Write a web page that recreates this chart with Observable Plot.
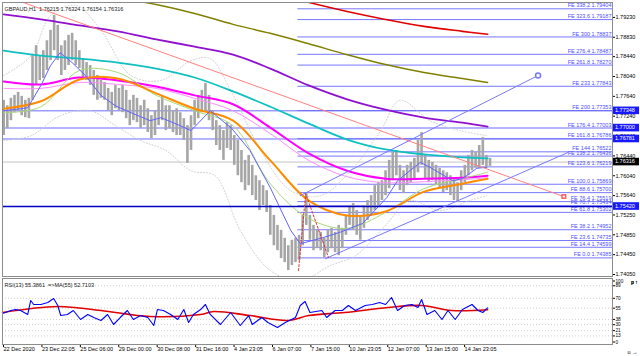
<!DOCTYPE html>
<html><head><meta charset="utf-8">
<script src="https://cdn.jsdelivr.net/npm/d3@7"></script>
<script src="https://cdn.jsdelivr.net/npm/@observablehq/plot@0.6"></script>
<style>
html,body{margin:0;padding:0;background:#fff;}
#wrap{width:640px;height:356px;position:relative;overflow:hidden;background:#fff;}
svg{display:block;}
</style></head><body><div id="wrap"></div>
<script>
// ---------- DATA ----------
const titleText = "GBPAUD,H1  1.76215 1.76324 1.76154 1.76316";
const rsiTitle = "RSI(13) 55.3861  =>MA(55) 52.7103";

// time axis (hours from first bar) and labels
const dateTicks = [0,32,64,96,128,160,192,224,256,288,320,352,384];
const dateLabels = ["22 Dec 2020","23 Dec 22:05","25 Dec 06:00","29 Dec 00:00","30 Dec 08:00","31 Dec 16:00","4 Jan 23:05","6 Jan 07:00","7 Jan 15:00","10 Jan 23:05","12 Jan 07:00","13 Jan 15:00","14 Jan 23:05"];
const priceTicks = [1.79230,1.78830,1.78440,1.78040,1.77640,1.77240,1.76840,1.76440,1.76040,1.75640,1.75250,1.74850,1.74450,1.74050];
const rsiTicksMid = [89,70,55,38,30,21,13];

// price bars, one every 3 hours
const barStart = 1, barHours = 3;
const barHigh = [1.7756,1.7745,1.7760,1.7766,1.7772,1.7764,1.7756,1.7760,1.7846,1.7866,
1.7846,1.7856,1.7876,1.7897,1.7927,1.7907,1.7866,1.7876,1.7887,1.7891,
1.7876,1.7856,1.7840,1.7832,1.7826,1.7816,1.7806,1.7796,1.7792,1.7780,
1.7772,1.7786,1.7780,1.7786,1.7776,1.7756,1.7766,1.7760,1.7745,1.7756,
1.7739,1.7725,1.7735,1.7756,1.7766,1.7745,1.7745,1.7735,1.7739,1.7731,
1.7719,1.7705,1.7725,1.7756,1.7766,1.7776,1.7790,1.7766,1.7735,1.7715,
1.7705,1.7695,1.7711,1.7705,1.7685,1.7675,1.7655,1.7635,1.7645,1.7625,
1.7604,1.7594,1.7584,1.7574,1.7544,1.7524,1.7504,1.7494,1.7478,1.7463,
1.7474,1.7478,1.7484,1.7524,1.7568,1.7524,1.7504,1.7494,1.7490,1.7478,
1.7494,1.7498,1.7490,1.7504,1.7498,1.7524,1.7544,1.7548,1.7534,1.7524,
1.7544,1.7554,1.7564,1.7584,1.7590,1.7594,1.7614,1.7635,1.7651,1.7655,
1.7625,1.7614,1.7625,1.7631,1.7639,1.7675,1.7691,1.7645,1.7635,1.7631,
1.7625,1.7619,1.7614,1.7610,1.7604,1.7598,1.7590,1.7614,1.7625,1.7645,
1.7655,1.7651,1.7665,1.7681,1.7645,1.7639];
const barLow = [1.7685,1.7699,1.7715,1.7731,1.7735,1.7725,1.7721,1.7719,1.7756,1.7786,
1.7796,1.7800,1.7816,1.7836,1.7856,1.7836,1.7806,1.7816,1.7826,1.7836,
1.7826,1.7820,1.7800,1.7796,1.7786,1.7766,1.7756,1.7760,1.7756,1.7735,
1.7725,1.7739,1.7735,1.7731,1.7719,1.7705,1.7715,1.7711,1.7699,1.7705,
1.7691,1.7679,1.7685,1.7705,1.7715,1.7695,1.7699,1.7691,1.7685,1.7685,
1.7675,1.7629,1.7655,1.7705,1.7719,1.7731,1.7735,1.7715,1.7695,1.7665,
1.7655,1.7635,1.7659,1.7655,1.7625,1.7604,1.7590,1.7574,1.7584,1.7564,
1.7554,1.7534,1.7544,1.7530,1.7484,1.7463,1.7453,1.7437,1.7429,1.7413,
1.7423,1.7429,1.7433,1.7463,1.7504,1.7474,1.7453,1.7457,1.7453,1.7439,
1.7449,1.7457,1.7449,1.7443,1.7457,1.7484,1.7504,1.7494,1.7484,1.7474,
1.7498,1.7514,1.7524,1.7534,1.7544,1.7554,1.7564,1.7578,1.7594,1.7604,
1.7574,1.7568,1.7584,1.7590,1.7594,1.7610,1.7625,1.7598,1.7590,1.7594,
1.7584,1.7578,1.7570,1.7574,1.7564,1.7554,1.7550,1.7574,1.7590,1.7604,
1.7614,1.7619,1.7619,1.7625,1.7619,1.7623];

// moving averages
const maU = [1,32,64,96,128,160,192,223,255,287,319,351,383,404];
const maPurple  = [1.7929,1.7919,1.7907,1.7895,1.7879,1.7864,1.7848,1.7820,1.7786,1.7758,1.7737,1.7721,1.7711,1.7703];
const maCyan    = [1.7856,1.7846,1.7840,1.7832,1.7820,1.7802,1.7774,1.7743,1.7709,1.7677,1.7657,1.7647,1.7641,1.7639];
const maMagenta = [1.7794,1.7788,1.7802,1.7796,1.7784,1.7766,1.7748,1.7701,1.7649,1.7614,1.7598,1.7598,1.7600,1.7604];
const maPink    = [1.7780,1.7780,1.7792,1.7788,1.7780,1.7760,1.7735,1.7689,1.7635,1.7602,1.7590,1.7592,1.7596,1.7600];
const maOrange  = [1.7739,1.7754,1.7798,1.7800,1.7770,1.7739,1.7715,1.7635,1.7554,1.7524,1.7532,1.7572,1.7588,1.7598];
const maGreen   = [1.7731,1.7743,1.7816,1.7812,1.7766,1.7735,1.7705,1.7588,1.7518,1.7498,1.7530,1.7578,1.7598,1.7611];
const redU = [223,252,287,319,351,383,404];
const maRed = [1.7973,1.7955,1.7935,1.7919,1.7905,1.7895,1.7889];
const oliveU = [96,128,160,192,223,255,287,319,351,383,404];
const maOlive = [1.7963,1.7949,1.7931,1.7909,1.7891,1.7870,1.7848,1.7828,1.7812,1.7800,1.7792];
const fastU = [1,15,21,32,40,48,58,69,82,94,107,123,132,148,157,173,191,206,223,240,248,265,281,300,320,329,348,356,375,383,395,403];
const maFast = [1.7735,1.7739,1.7741,1.7786,1.7826,1.7852,1.7832,1.7806,1.7766,1.7745,1.7731,1.7715,1.7721,1.7705,1.7695,1.7735,1.7699,1.7655,1.7580,1.7494,1.7467,1.7478,1.7490,1.7508,1.7560,1.7594,1.7631,1.7621,1.7594,1.7598,1.7619,1.7621];
const bandUpU = [1,24,40,61,82,107,132,157,173,190,215,240,265,290,315,331,356,381,403];
const bandUp  = [1.7806,1.7846,1.7927,1.7947,1.7897,1.7806,1.7796,1.7836,1.7840,1.7776,1.7655,1.7574,1.7564,1.7614,1.7695,1.7756,1.7715,1.7695,1.7685];
const bandLoU = [1,24,48,73,94,115,136,157,177,198,223,248,273,294,319,339,364,389,403];
const bandLo  = [1.7675,1.7685,1.7725,1.7735,1.7705,1.7675,1.7655,1.7614,1.7604,1.7494,1.7413,1.7393,1.7423,1.7443,1.7504,1.7554,1.7534,1.7554,1.7564];

// Fibonacci expansion levels
const feStart = 246;
const feNames  = ["338.2","323.6","300","276.4","261.8","233","200","176.4","161.8","144","138.2","123.6","100.0","88.6","76.4","70.7","61.8","38.2","23.6","14.4","0.0"];
const fePrices = [1.79404,1.79187,1.78837,1.78487,1.78270,1.77843,1.77353,1.77003,1.76786,1.76522,1.76436,1.76219,1.75869,1.75700,1.75519,1.75434,1.75302,1.74952,1.74735,1.74599,1.74385];

// horizontal lines and price labels
const hLevels = [1.77348,1.76781];
const hLevelSoft = [1.77000];
const supportLevel = 1.75420;
const currentPrice = 1.76316;
const boxBlue = [1.77348,1.77000,1.76781,1.75420];
const boxBlack = [1.76316];

// trend lines (u = hours, p = price)
const trendRed  = [{u:17.5,p:1.7953},{u:467.5,p:1.7562}];
const chanUp    = [{u:248,p:1.7564},{u:446,p:1.7806}];
const chanLo    = [{u:269,p:1.7437},{u:471,p:1.7651}];
const zigzag    = [{u:246.5,p:1.7413},{u:252.5,p:1.7568},{u:271.5,p:1.7439}];

// RSI
const rsiU = [0,7,11,15,21,23.5,26,32,37.7,42.6,46,48.5,54,59,65,71,76,82,87.5,92.5,98,104,109,115,121,126,129,134,140,146,151,155,159,165,169,173,181.5,190,198,205,208,216,221,229,235.5,244,248,252,256,266,270,277,283,288,294,302,308,314,319,324,329,335,341,346,349,353.5,360,366,371,377,383,391,396,400,404];
const rsiV = [47.0,51.5,53.0,51.5,45.5,66.7,60.6,60.6,63.6,69.7,59.1,43.9,45.5,51.5,37.9,45.5,40.9,36.4,45.5,30.3,40.9,51.5,37.9,43.9,40.9,28.8,53.0,51.5,45.5,37.9,53.0,33.3,45.5,53.0,60.6,45.5,30.3,48.5,28.8,43.9,30.3,40.9,33.3,25.8,33.3,40.9,59.1,65.2,48.5,51.5,40.9,51.5,51.5,59.1,51.5,59.1,60.6,63.6,60.6,71.2,51.5,59.1,60.6,56.1,68.2,45.5,51.5,37.9,51.5,37.9,53.0,60.6,51.5,48.5,55.4];
const rsiMaU = [0,46,82,123,165,176,206,238,255,285,321,349,374,404];
const rsiMaV = [48.5,57.6,51.5,42.4,45.5,50.0,43.9,36.4,43.9,48.5,56.1,59.1,51.5,52.7];

// ---------- RENDER ----------
const FONT = "'Liberation Sans Narrow','Arial Narrow','Liberation Sans',Arial,sans-serif";
const ctx = document.createElement("canvas").getContext("2d");
ctx.font = "10px " + FONT;
const fs = Math.min(7.2, 10 * 44 / ctx.measureText("FE 100.0 1.75869").width);
const fsSmall = fs * 0.85;

const X_DOMAIN = [0, 508];
const zip = (us, ps) => us.map((u, i) => ({u, p: ps[i]}));
const bars = barHigh.map((h, i) => ({u: barStart + barHours * i, hi: h, lo: barLow[i]}));
const fe = feNames.map((n, i) => ({name: n, price: fePrices[i]}));
const dateLabel = new Map(dateTicks.map((t, i) => [t, dateLabels[i]]));
const maLine = (d, stroke, w, extra = {}) => Plot.line(d, {x: "u", y: "p", stroke, strokeWidth: w, curve: "catmull-rom", clip: true, ...extra});
const band = d => Plot.line(d, {x: "u", y: "p", stroke: "#cfcfcf", strokeWidth: 1, strokeDasharray: "1,2", curve: "catmull-rom", clip: true});

const main = Plot.plot({
  width: 640, height: 277,
  marginTop: 2, marginBottom: 1, marginLeft: 2, marginRight: 28,
  x: {domain: X_DOMAIN, axis: null},
  y: {domain: [1.74010, 1.79531], axis: null},
  style: {fontFamily: FONT, fontSize: fs + "px", background: "white", color: "black", overflow: "visible"},
  marks: [
    Plot.ruleY(fe, {y: "price", x1: feStart, x2: X_DOMAIN[1], stroke: "#7777ff", strokeWidth: 1}),
    Plot.ruleY(hLevels, {stroke: "#6a6aff"}),
    Plot.ruleY(hLevelSoft, {stroke: "#b4b4ff", strokeWidth: 2}),
    Plot.ruleY([currentPrice], {stroke: "#c4c4c4"}),
    Plot.text(fe, {y: "price", text: d => `FE ${d.name} ${d.price.toFixed(5)}`, frameAnchor: "right", textAnchor: "end", dx: -1, dy: -3.2, fill: "#4d4dff"}),
    band(zip(bandUpU, bandUp)),
    band(zip(bandLoU, bandLo)),
    Plot.ruleX(bars, {x: "u", y1: "lo", y2: "hi", stroke: "#a6a6a6", strokeWidth: 2.6}),
    maLine(zip(oliveU, maOlive), "#808000", 1.5),
    maLine(zip(redU, maRed), "#e00000", 1.6),
    maLine(zip(maU, maPurple), "#9010d0", 1.8),
    maLine(zip(maU, maCyan), "#10c0c0", 1.8),
    maLine(zip(maU, maPink), "#ff8cff", 1),
    maLine(zip(maU, maMagenta), "#ff00ff", 2),
    maLine(zip(maU, maGreen), "#a8d878", 1),
    maLine(zip(maU, maOrange), "#ff8c00", 2),
    Plot.line(zip(fastU, maFast), {x: "u", y: "p", stroke: "#6262ff", strokeWidth: 1}),
    Plot.ruleY([supportLevel], {stroke: "#0000c0", strokeWidth: 1.5}),
    Plot.line(trendRed, {x: "u", y: "p", stroke: "#ff8080", strokeWidth: 1}),
    Plot.dot(trendRed.slice(1), {x: "u", y: "p", symbol: "square", r: 2, stroke: "#ff6060", fill: "white"}),
    Plot.line(chanUp, {x: "u", y: "p", stroke: "#7878ff", strokeWidth: 1}),
    Plot.dot(chanUp.slice(1), {x: "u", y: "p", r: 2.5, stroke: "#7878ff", fill: "white"}),
    Plot.line(chanLo, {x: "u", y: "p", stroke: "#7878ff", strokeWidth: 1}),
    Plot.line(zigzag, {x: "u", y: "p", stroke: "#e03030", strokeWidth: 1, strokeDasharray: "2,2"}),
    Plot.text([titleText], {frameAnchor: "top-left", dx: 2, dy: 5, textAnchor: "start", fill: "#202020"}),
    Plot.axisY({anchor: "right", ticks: priceTicks, tickFormat: d3.format(".5f"), tickSize: 2, tickPadding: 1}),
    Plot.frame({stroke: "#8c8c8c"})
  ]
});
const mainSvg = main.tagName.toLowerCase() === "svg" ? main : main.querySelector("svg");
{
  const yS = main.scale("y"), xS = main.scale("x");
  const x0 = xS.apply(X_DOMAIN[1]) + 1;
  const g = d3.select(mainSvg).append("g")
    .attr("font-family", FONT).attr("font-size", fs).attr("text-anchor", "start");
  const boxes = boxBlue.map(v => ({v, c: "#1818ff"})).concat(boxBlack.map(v => ({v, c: "#000"})));
  for (const b of boxes) {
    const y = yS.apply(b.v);
    g.append("rect").attr("x", x0).attr("y", y - 3.8).attr("width", 26).attr("height", 7.6).attr("fill", b.c);
    g.append("text").attr("x", x0 + 2).attr("y", y).attr("dy", "0.34em")
      .attr("text-anchor", "start").attr("fill", "white").text(b.v.toFixed(5));
  }
}

const rsiPlot = Plot.plot({
  width: 640, height: 79,
  marginTop: 1, marginBottom: 12, marginLeft: 2, marginRight: 28,
  x: {domain: X_DOMAIN, axis: null},
  y: {domain: [0, 100], axis: null},
  style: {fontFamily: FONT, fontSize: fs + "px", background: "white", color: "black", overflow: "visible"},
  marks: [
    Plot.ruleY(rsiTicksMid, {stroke: "#cfcfcf", strokeDasharray: "1,2"}),
    Plot.line(zip(rsiMaU, rsiMaV), {x: "u", y: "p", stroke: "#e00000", strokeWidth: 1.6, curve: "catmull-rom"}),
    Plot.line(zip(rsiU, rsiV), {x: "u", y: "p", stroke: "#0000ff", strokeWidth: 1.1}),
    Plot.text([rsiTitle], {frameAnchor: "top-left", dx: 2, dy: 5, textAnchor: "start", fill: "#202020"}),
    Plot.axisY({anchor: "right", ticks: rsiTicksMid, tickSize: 2, tickPadding: 1, fontSize: fsSmall}),
    Plot.axisY({anchor: "right", ticks: [100], tickSize: 2, tickPadding: 1, dy: 2.5, fontSize: fsSmall}),
    Plot.axisY({anchor: "right", ticks: [0], tickSize: 2, tickPadding: 1, dy: -2.5, fontSize: fsSmall}),
    Plot.axisX({anchor: "bottom", ticks: dateTicks, tickFormat: d => dateLabel.get(d), textAnchor: "start", tickSize: 3, tickPadding: 0, dx: 1}),
    Plot.frame({stroke: "#8c8c8c"})
  ]
});

const wrap = document.getElementById("wrap");
wrap.appendChild(main);
wrap.appendChild(rsiPlot);
</script>
</body></html>
